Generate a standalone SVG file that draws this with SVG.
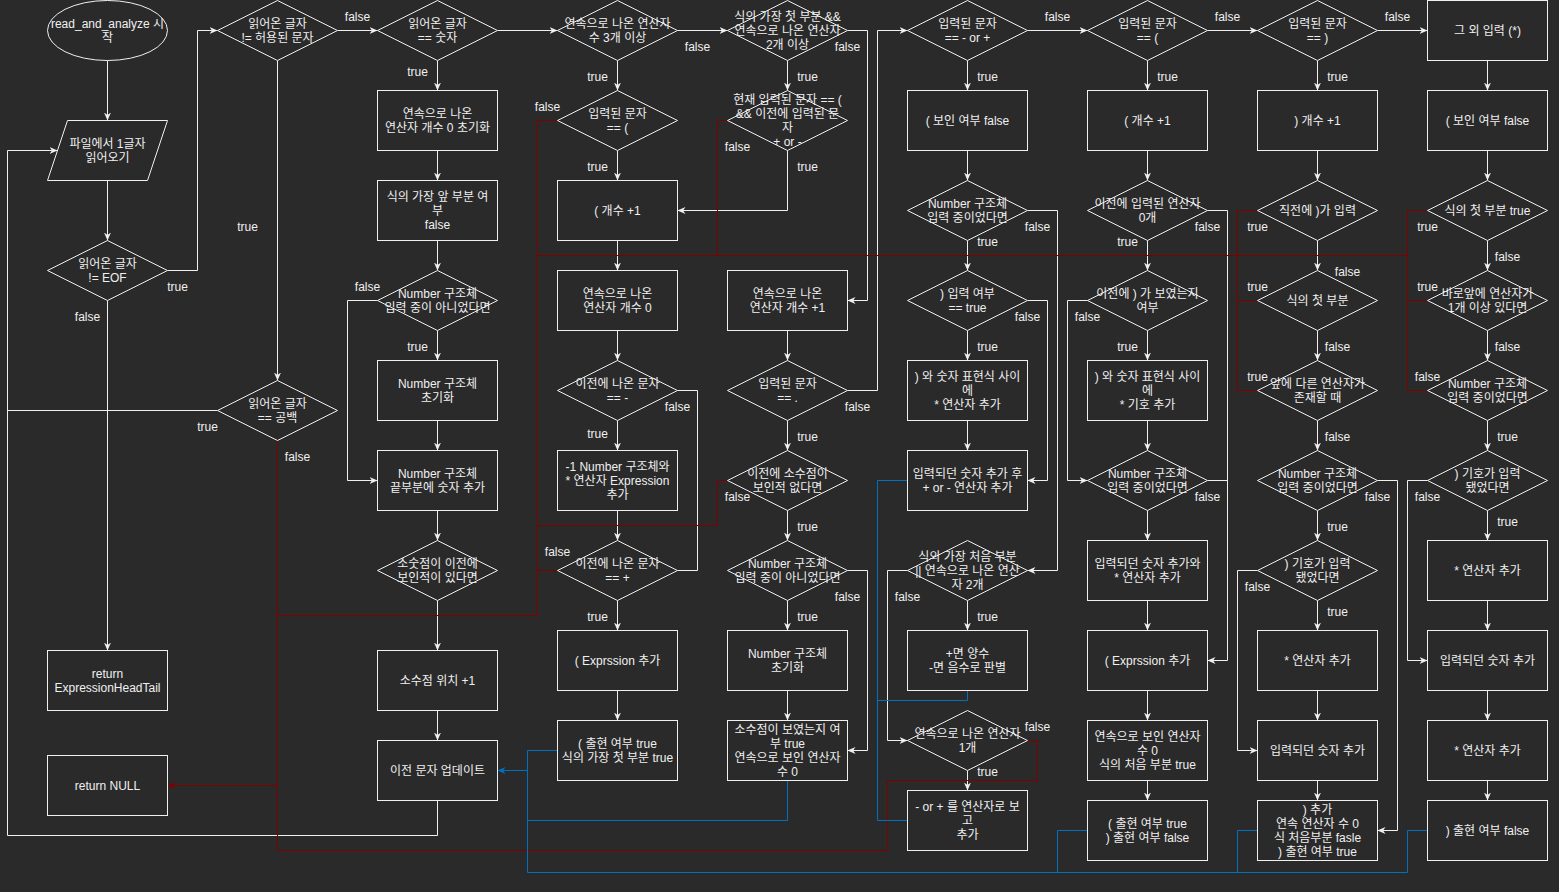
<svg xmlns="http://www.w3.org/2000/svg" width="1559" height="892" viewBox="0 0 1559 892">
<style>
.s{fill:#2a2a2a;stroke:#f0f0f0;stroke-width:1}
.t{fill:#f0f0f0;font-family:"Liberation Sans","Noto Sans CJK KR",sans-serif;font-size:12px;text-anchor:middle}
.e{fill:none;stroke:#f0f0f0;stroke-width:1}
.ea{fill:none;stroke:#f0f0f0;stroke-width:1;marker-end:url(#aw)}
.r{fill:none;stroke:#800000;stroke-width:1}
.b{fill:none;stroke:#0070c0;stroke-width:1}
</style>
<defs>
<marker id="aw" viewBox="0 0 8 7" refX="8" refY="3.5" markerWidth="8" markerHeight="7" markerUnits="userSpaceOnUse" orient="auto"><path d="M0,0 L8,3.5 L0,7 L2.4,3.5 z" fill="#f0f0f0"/></marker>
<marker id="ar" viewBox="0 0 8 7" refX="8" refY="3.5" markerWidth="8" markerHeight="7" markerUnits="userSpaceOnUse" orient="auto"><path d="M0,0 L8,3.5 L0,7 L2.4,3.5 z" fill="#800000"/></marker>
<marker id="ab" viewBox="0 0 8 7" refX="8" refY="3.5" markerWidth="8" markerHeight="7" markerUnits="userSpaceOnUse" orient="auto"><path d="M0,0 L8,3.5 L0,7 L2.4,3.5 z" fill="#0070c0"/></marker>
</defs>
<rect x="0" y="0" width="1559" height="892" fill="#2a2a2a"/>
<g transform="translate(0.5,0.5)">
<g id="connectors">
<path class="ea" d="M107,60 V120"/>
<path class="ea" d="M107,180 V240"/>
<path class="ea" d="M167,270 H197 V30 H217"/>
<path class="ea" d="M107,300 V650"/>
<path class="ea" d="M437,800 V835 H7 V150 H57"/>
<path class="e" d="M217,410 H7"/>
<path class="ea" d="M337,30 H377"/>
<path class="ea" d="M277,60 V380"/>
<path class="ea" d="M497,30 H557"/>
<path class="ea" d="M437,60 V90"/>
<path class="ea" d="M437,150 V180"/>
<path class="ea" d="M437,240 V270"/>
<path class="ea" d="M437,330 V360"/>
<path class="ea" d="M437,420 V450"/>
<path class="ea" d="M377,300 H347 V480 H377"/>
<path class="ea" d="M437,510 V540"/>
<path class="ea" d="M437,600 V650"/>
<path class="ea" d="M437,710 V740"/>
<path class="ea" d="M677,30 H727"/>
<path class="ea" d="M617,60 V90"/>
<path class="ea" d="M617,150 V180"/>
<path class="ea" d="M617,240 V270"/>
<path class="ea" d="M617,330 V360"/>
<path class="ea" d="M617,420 V450"/>
<path class="e" d="M677,390 H697 V570 H677"/>
<path class="ea" d="M617,510 V540"/>
<path class="ea" d="M617,600 V630"/>
<path class="ea" d="M617,690 V720"/>
<path class="ea" d="M787,60 V90"/>
<path class="ea" d="M787,150 V210 H677"/>
<path class="ea" d="M847,30 H867 V300 H847"/>
<path class="ea" d="M787,330 V360"/>
<path class="ea" d="M847,390 H877 V30 H907"/>
<path class="ea" d="M787,420 V450"/>
<path class="ea" d="M787,510 V540"/>
<path class="ea" d="M787,600 V630"/>
<path class="ea" d="M847,570 H867 V750 H847"/>
<path class="ea" d="M787,690 V720"/>
<path class="ea" d="M1027,30 H1087"/>
<path class="ea" d="M967,60 V90"/>
<path class="ea" d="M967,150 V180"/>
<path class="ea" d="M967,240 V270"/>
<path class="ea" d="M967,330 V360"/>
<path class="ea" d="M967,420 V450"/>
<path class="ea" d="M1027,210 H1057 V570 H1027"/>
<path class="ea" d="M1027,300 H1047 V480 H1027"/>
<path class="ea" d="M967,600 V630"/>
<path class="ea" d="M907,570 H887 V740 H907"/>
<path class="ea" d="M967,770 V790"/>
<path class="ea" d="M1207,30 H1257"/>
<path class="ea" d="M1147,60 V90"/>
<path class="ea" d="M1147,150 V180"/>
<path class="ea" d="M1147,240 V270"/>
<path class="ea" d="M1147,330 V360"/>
<path class="ea" d="M1147,420 V450"/>
<path class="ea" d="M1207,210 H1227 V660 H1207"/>
<path class="ea" d="M1087,300 H1067 V480 H1087"/>
<path class="e" d="M1207,480 H1227"/>
<path class="ea" d="M1147,510 V540"/>
<path class="ea" d="M1147,600 V630"/>
<path class="ea" d="M1147,690 V720"/>
<path class="ea" d="M1147,780 V800"/>
<path class="ea" d="M1377,30 H1427"/>
<path class="ea" d="M1317,60 V90"/>
<path class="ea" d="M1317,150 V180"/>
<path class="ea" d="M1317,240 V270"/>
<path class="ea" d="M1317,330 V360"/>
<path class="ea" d="M1317,420 V450"/>
<path class="ea" d="M1317,510 V540"/>
<path class="ea" d="M1377,480 H1397 V830 H1377"/>
<path class="ea" d="M1317,600 V630"/>
<path class="ea" d="M1257,570 H1237 V750 H1257"/>
<path class="ea" d="M1317,690 V720"/>
<path class="ea" d="M1317,780 V800"/>
<path class="ea" d="M1487,60 V90"/>
<path class="ea" d="M1487,150 V180"/>
<path class="ea" d="M1487,240 V270"/>
<path class="ea" d="M1487,330 V360"/>
<path class="ea" d="M1487,420 V450"/>
<path class="ea" d="M1487,510 V540"/>
<path class="ea" d="M1487,600 V630"/>
<path class="ea" d="M1487,690 V720"/>
<path class="ea" d="M1487,780 V800"/>
<path class="ea" d="M1427,480 H1407 V660 H1427"/>
<path class="r" d="M277,440 V785 H167" marker-end="url(#ar)"/>
<path class="r" d="M1027,740 H1037 V780 H887 V850 H277 V785"/>
<path class="r" d="M557,120 H537 V615 H277"/>
<path class="r" d="M727,120 H717 V255"/>
<path class="r" d="M537,255 H1407"/>
<path class="r" d="M727,480 H717 V525 H537"/>
<path class="r" d="M557,570 H537"/>
<path class="r" d="M1257,210 H1237 V390 H1257"/>
<path class="r" d="M1237,300 H1257"/>
<path class="r" d="M1427,210 H1407 V390 H1427"/>
<path class="r" d="M1407,300 H1427"/>
<path class="b" d="M557,750 H527 V770 H497" marker-end="url(#ab)"/>
<path class="b" d="M1427,830 H1407 V872 H527 V770"/>
<path class="b" d="M1257,830 H1237 V872"/>
<path class="b" d="M1087,830 H1057 V872"/>
<path class="b" d="M787,780 V820 H527"/>
<path class="b" d="M907,820 H877"/>
<path class="b" d="M907,480 H877 V820"/>
<path class="b" d="M967,690 V700 H877"/>
<g id="edge-labels" class="t">
<text x="357" y="20">false</text>
<text x="177" y="290">true</text>
<text x="247" y="230">true</text>
<text x="87" y="320">false</text>
<text x="367" y="290">false</text>
<text x="207" y="430">true</text>
<text x="297" y="460">false</text>
<text x="417" y="75">true</text>
<text x="697" y="50">false</text>
<text x="597" y="80">true</text>
<text x="547" y="110">false</text>
<text x="597" y="170">true</text>
<text x="737" y="150">false</text>
<text x="847" y="50">false</text>
<text x="807" y="80">true</text>
<text x="807" y="170">true</text>
<text x="1057" y="20">false</text>
<text x="987" y="80">true</text>
<text x="1037" y="230">false</text>
<text x="987" y="245">true</text>
<text x="1127" y="245">true</text>
<text x="1167" y="80">true</text>
<text x="1227" y="20">false</text>
<text x="1397" y="20">false</text>
<text x="1337" y="80">true</text>
<text x="1257" y="230">true</text>
<text x="1207" y="230">false</text>
<text x="1427" y="230">true</text>
<text x="1507" y="260">false</text>
<text x="1347" y="275">false</text>
<text x="1257" y="290">true</text>
<text x="1427" y="290">true</text>
<text x="417" y="350">true</text>
<text x="677" y="410">false</text>
<text x="597" y="437">true</text>
<text x="737" y="500">false</text>
<text x="557" y="555">false</text>
<text x="1027" y="320">false</text>
<text x="1087" y="320">false</text>
<text x="987" y="350">true</text>
<text x="1127" y="350">true</text>
<text x="857" y="410">false</text>
<text x="807" y="440">true</text>
<text x="807" y="530">true</text>
<text x="907" y="600">false</text>
<text x="847" y="600">false</text>
<text x="1337" y="350">false</text>
<text x="1257" y="380">true</text>
<text x="1427" y="380">false</text>
<text x="1507" y="350">false</text>
<text x="1337" y="440">false</text>
<text x="1507" y="440">true</text>
<text x="1207" y="500">false</text>
<text x="1377" y="500">false</text>
<text x="1427" y="500">false</text>
<text x="1337" y="530">true</text>
<text x="1507" y="525">true</text>
<text x="1257" y="590">false</text>
<text x="1337" y="615">true</text>
<text x="597" y="620">true</text>
<text x="807" y="620">true</text>
<text x="987" y="620">true</text>
<text x="1037" y="730">false</text>
<text x="987" y="775">true</text>
</g>
</g>
<g id="n_start"><ellipse class="s" cx="107" cy="30" rx="60" ry="30"/><text class="t"><tspan x="107" y="27.5">read_and_analyze 시</tspan><tspan x="107" y="41.5">작</tspan></text></g>
<g id="n_read"><polygon class="s" points="67,120 167,120 147,180 47,180"/><text class="t"><tspan x="107" y="147.5">파일에서 1글자</tspan><tspan x="107" y="161.5">읽어오기</tspan></text></g>
<g id="n_eof"><polygon class="s" points="47,270 107,240 167,270 107,300"/><text class="t"><tspan x="107" y="267.5">읽어온 글자</tspan><tspan x="107" y="281.5">!= EOF</tspan></text></g>
<g id="n_ret_expr"><rect class="s" x="47" y="650" width="120" height="60"/><text class="t"><tspan x="107" y="677.5">return</tspan><tspan x="107" y="691.5">ExpressionHeadTail</tspan></text></g>
<g id="n_ret_null"><rect class="s" x="47" y="755" width="120" height="60"/><text class="t" x="107" y="789.5">return NULL</text></g>
<g id="n_allowed"><polygon class="s" points="217,30 277,0 337,30 277,60"/><text class="t"><tspan x="277" y="27.5">읽어온 글자</tspan><tspan x="277" y="41.5">!= 허용된 문자</tspan></text></g>
<g id="n_space"><polygon class="s" points="217,410 277,380 337,410 277,440"/><text class="t"><tspan x="277" y="407.5">읽어온 글자</tspan><tspan x="277" y="421.5">== 공백</tspan></text></g>
<g id="n_digit"><polygon class="s" points="377,30 437,0 497,30 437,60"/><text class="t"><tspan x="437" y="27.5">읽어온 글자</tspan><tspan x="437" y="41.5">== 숫자</tspan></text></g>
<g id="n_c2b1"><rect class="s" x="377" y="90" width="120" height="60"/><text class="t"><tspan x="437" y="117.5">연속으로 나온</tspan><tspan x="437" y="131.5">연산자 개수 0 초기화</tspan></text></g>
<g id="n_c2b2"><rect class="s" x="377" y="180" width="120" height="60"/><text class="t"><tspan x="437" y="200.5">식의 가장 앞 부분 여</tspan><tspan x="437" y="214.5">부</tspan><tspan x="437" y="228.5">false</tspan></text></g>
<g id="n_c2d1"><polygon class="s" points="377,300 437,270 497,300 437,330"/><text class="t"><tspan x="437" y="297.5">Number 구조체</tspan><tspan x="437" y="311.5">입력 중이 아니었다면</tspan></text></g>
<g id="n_c2b3"><rect class="s" x="377" y="360" width="120" height="60"/><text class="t"><tspan x="437" y="387.5">Number 구조체</tspan><tspan x="437" y="401.5">초기화</tspan></text></g>
<g id="n_c2b4"><rect class="s" x="377" y="450" width="120" height="60"/><text class="t"><tspan x="437" y="477.5">Number 구조체</tspan><tspan x="437" y="491.5">끝부분에 숫자 추가</tspan></text></g>
<g id="n_c2d2"><polygon class="s" points="377,570 437,540 497,570 437,600"/><text class="t"><tspan x="437" y="567.5">소숫점이 이전에</tspan><tspan x="437" y="581.5">보인적이 있다면</tspan></text></g>
<g id="n_c2b5"><rect class="s" x="377" y="650" width="120" height="60"/><text class="t" x="437" y="684.5">소수점 위치 +1</text></g>
<g id="n_c2b6"><rect class="s" x="377" y="740" width="120" height="60"/><text class="t" x="437" y="774.5">이전 문자 업데이트</text></g>
<g id="n_c3d0"><polygon class="s" points="557,30 617,0 677,30 617,60"/><text class="t"><tspan x="617" y="27.5">연속으로 나온 연산자</tspan><tspan x="617" y="41.5">수 3개 이상</tspan></text></g>
<g id="n_c3d1"><polygon class="s" points="557,120 617,90 677,120 617,150"/><text class="t"><tspan x="617" y="117.5">입력된 문자</tspan><tspan x="617" y="131.5">== (</tspan></text></g>
<g id="n_c3b1"><rect class="s" x="557" y="180" width="120" height="60"/><text class="t" x="617" y="214.5">( 개수 +1</text></g>
<g id="n_c3b2"><rect class="s" x="557" y="270" width="120" height="60"/><text class="t"><tspan x="617" y="297.5">연속으로 나온</tspan><tspan x="617" y="311.5">연산자 개수 0</tspan></text></g>
<g id="n_c3d2"><polygon class="s" points="557,390 617,360 677,390 617,420"/><text class="t"><tspan x="617" y="387.5">이전에 나온 문자</tspan><tspan x="617" y="401.5">== -</tspan></text></g>
<g id="n_c3b3"><rect class="s" x="557" y="450" width="120" height="60"/><text class="t"><tspan x="617" y="470.5">-1 Number 구조체와</tspan><tspan x="617" y="484.5">* 연산자 Expression</tspan><tspan x="617" y="498.5">추가</tspan></text></g>
<g id="n_c3d3"><polygon class="s" points="557,570 617,540 677,570 617,600"/><text class="t"><tspan x="617" y="567.5">이전에 나온 문자</tspan><tspan x="617" y="581.5">== +</tspan></text></g>
<g id="n_c3b4"><rect class="s" x="557" y="630" width="120" height="60"/><text class="t" x="617" y="664.5">( Exprssion 추가</text></g>
<g id="n_c3b5"><rect class="s" x="557" y="720" width="120" height="60"/><text class="t"><tspan x="617" y="747.5">( 출현 여부 true</tspan><tspan x="617" y="761.5">식의 가장 첫 부분 true</tspan></text></g>
<g id="n_c4d0"><polygon class="s" points="727,30 787,0 847,30 787,60"/><text class="t"><tspan x="787" y="20.5">식의 가장 첫 부분 &amp;&amp;</tspan><tspan x="787" y="34.5">연속으로 나온 연산자</tspan><tspan x="787" y="48.5">2개 이상</tspan></text></g>
<g id="n_c4d1"><polygon class="s" points="727,120 787,90 847,120 787,150"/><text class="t"><tspan x="787" y="103.5">현재 입력된 문자 == (</tspan><tspan x="787" y="117.5">&amp;&amp; 이전에 입력된 문</tspan><tspan x="787" y="131.5">자</tspan><tspan x="787" y="145.5">+ or -</tspan></text></g>
<g id="n_c4b1"><rect class="s" x="727" y="270" width="120" height="60"/><text class="t"><tspan x="787" y="297.5">연속으로 나온</tspan><tspan x="787" y="311.5">연산자 개수 +1</tspan></text></g>
<g id="n_c4d2"><polygon class="s" points="727,390 787,360 847,390 787,420"/><text class="t"><tspan x="787" y="387.5">입력된 문자</tspan><tspan x="787" y="401.5">== .</tspan></text></g>
<g id="n_c4d3"><polygon class="s" points="727,480 787,450 847,480 787,510"/><text class="t"><tspan x="787" y="477.5">이전에 소수점이</tspan><tspan x="787" y="491.5">보인적 없다면</tspan></text></g>
<g id="n_c4d4"><polygon class="s" points="727,570 787,540 847,570 787,600"/><text class="t"><tspan x="787" y="567.5">Number 구조체</tspan><tspan x="787" y="581.5">입력 중이 아니었다면</tspan></text></g>
<g id="n_c4b2"><rect class="s" x="727" y="630" width="120" height="60"/><text class="t"><tspan x="787" y="657.5">Number 구조체</tspan><tspan x="787" y="671.5">초기화</tspan></text></g>
<g id="n_c4b3"><rect class="s" x="727" y="720" width="120" height="60"/><text class="t"><tspan x="787" y="733.5">소수점이 보였는지 여</tspan><tspan x="787" y="747.5">부 true</tspan><tspan x="787" y="761.5">연속으로 보인 연산자</tspan><tspan x="787" y="775.5">수 0</tspan></text></g>
<g id="n_c5d0"><polygon class="s" points="907,30 967,0 1027,30 967,60"/><text class="t"><tspan x="967" y="27.5">입력된 문자</tspan><tspan x="967" y="41.5">== - or +</tspan></text></g>
<g id="n_c5b1"><rect class="s" x="907" y="90" width="120" height="60"/><text class="t" x="967" y="124.5">( 보인 여부 false</text></g>
<g id="n_c5d1"><polygon class="s" points="907,210 967,180 1027,210 967,240"/><text class="t"><tspan x="967" y="207.5">Number 구조체</tspan><tspan x="967" y="221.5">입력 중이었다면</tspan></text></g>
<g id="n_c5d2"><polygon class="s" points="907,300 967,270 1027,300 967,330"/><text class="t"><tspan x="967" y="297.5">) 입력 여부</tspan><tspan x="967" y="311.5">== true</tspan></text></g>
<g id="n_c5b2"><rect class="s" x="907" y="360" width="120" height="60"/><text class="t"><tspan x="967" y="380.5">) 와 숫자 표현식 사이</tspan><tspan x="967" y="394.5">에</tspan><tspan x="967" y="408.5">* 연산자 추가</tspan></text></g>
<g id="n_c5b3"><rect class="s" x="907" y="450" width="120" height="60"/><text class="t"><tspan x="967" y="477.5">입력되던 숫자 추가 후</tspan><tspan x="967" y="491.5">+ or - 연산자 추가</tspan></text></g>
<g id="n_c5d3"><polygon class="s" points="907,570 967,540 1027,570 967,600"/><text class="t"><tspan x="967" y="560.5">식의 가장 처음 부분</tspan><tspan x="967" y="574.5">|| 연속으로 나온 연산</tspan><tspan x="967" y="588.5">자 2개</tspan></text></g>
<g id="n_c5b4"><rect class="s" x="907" y="630" width="120" height="60"/><text class="t"><tspan x="967" y="657.5">+면 양수</tspan><tspan x="967" y="671.5">-면 음수로 판별</tspan></text></g>
<g id="n_c5d4"><polygon class="s" points="907,740 967,710 1027,740 967,770"/><text class="t"><tspan x="967" y="737.5">연속으로 나온 연산자</tspan><tspan x="967" y="751.5">1개</tspan></text></g>
<g id="n_c5b5"><rect class="s" x="907" y="790" width="120" height="60"/><text class="t"><tspan x="967" y="810.5">- or + 를 연산자로 보</tspan><tspan x="967" y="824.5">고</tspan><tspan x="967" y="838.5">추가</tspan></text></g>
<g id="n_c6d0"><polygon class="s" points="1087,30 1147,0 1207,30 1147,60"/><text class="t"><tspan x="1147" y="27.5">입력된 문자</tspan><tspan x="1147" y="41.5">== (</tspan></text></g>
<g id="n_c6b1"><rect class="s" x="1087" y="90" width="120" height="60"/><text class="t" x="1147" y="124.5">( 개수 +1</text></g>
<g id="n_c6d1"><polygon class="s" points="1087,210 1147,180 1207,210 1147,240"/><text class="t"><tspan x="1147" y="207.5">이전에 입력된 연산자</tspan><tspan x="1147" y="221.5">0개</tspan></text></g>
<g id="n_c6d2"><polygon class="s" points="1087,300 1147,270 1207,300 1147,330"/><text class="t"><tspan x="1147" y="297.5">이전에 ) 가 보였는지</tspan><tspan x="1147" y="311.5">여부</tspan></text></g>
<g id="n_c6b2"><rect class="s" x="1087" y="360" width="120" height="60"/><text class="t"><tspan x="1147" y="380.5">) 와 숫자 표현식 사이</tspan><tspan x="1147" y="394.5">에</tspan><tspan x="1147" y="408.5">* 기호 추가</tspan></text></g>
<g id="n_c6d3"><polygon class="s" points="1087,480 1147,450 1207,480 1147,510"/><text class="t"><tspan x="1147" y="477.5">Number 구조체</tspan><tspan x="1147" y="491.5">입력 중이었다면</tspan></text></g>
<g id="n_c6b3"><rect class="s" x="1087" y="540" width="120" height="60"/><text class="t"><tspan x="1147" y="567.5">입력되던 숫자 추가와</tspan><tspan x="1147" y="581.5">* 연산자 추가</tspan></text></g>
<g id="n_c6b4"><rect class="s" x="1087" y="630" width="120" height="60"/><text class="t" x="1147" y="664.5">( Exprssion 추가</text></g>
<g id="n_c6b5"><rect class="s" x="1087" y="720" width="120" height="60"/><text class="t"><tspan x="1147" y="740.5">연속으로 보인 연산자</tspan><tspan x="1147" y="754.5">수 0</tspan><tspan x="1147" y="768.5">식의 처음 부분 true</tspan></text></g>
<g id="n_c6b6"><rect class="s" x="1087" y="800" width="120" height="60"/><text class="t"><tspan x="1147" y="827.5">( 출현 여부 true</tspan><tspan x="1147" y="841.5">) 출현 여부 false</tspan></text></g>
<g id="n_c7d0"><polygon class="s" points="1257,30 1317,0 1377,30 1317,60"/><text class="t"><tspan x="1317" y="27.5">입력된 문자</tspan><tspan x="1317" y="41.5">== )</tspan></text></g>
<g id="n_c7b1"><rect class="s" x="1257" y="90" width="120" height="60"/><text class="t" x="1317" y="124.5">) 개수 +1</text></g>
<g id="n_c7d1"><polygon class="s" points="1257,210 1317,180 1377,210 1317,240"/><text class="t" x="1317" y="214.5">직전에 )가 입력</text></g>
<g id="n_c7d2"><polygon class="s" points="1257,300 1317,270 1377,300 1317,330"/><text class="t" x="1317" y="304.5">식의 첫 부분</text></g>
<g id="n_c7d3"><polygon class="s" points="1257,390 1317,360 1377,390 1317,420"/><text class="t"><tspan x="1317" y="387.5">앞에 다른 연산자가</tspan><tspan x="1317" y="401.5">존재할 때</tspan></text></g>
<g id="n_c7d4"><polygon class="s" points="1257,480 1317,450 1377,480 1317,510"/><text class="t"><tspan x="1317" y="477.5">Number 구조체</tspan><tspan x="1317" y="491.5">입력 중이었다면</tspan></text></g>
<g id="n_c7d5"><polygon class="s" points="1257,570 1317,540 1377,570 1317,600"/><text class="t"><tspan x="1317" y="567.5">) 기호가 입력</tspan><tspan x="1317" y="581.5">됐었다면</tspan></text></g>
<g id="n_c7b2"><rect class="s" x="1257" y="630" width="120" height="60"/><text class="t" x="1317" y="664.5">* 연산자 추가</text></g>
<g id="n_c7b3"><rect class="s" x="1257" y="720" width="120" height="60"/><text class="t" x="1317" y="754.5">입력되던 숫자 추가</text></g>
<g id="n_c7b4"><rect class="s" x="1257" y="800" width="120" height="60"/><text class="t"><tspan x="1317" y="813.5">) 추가</tspan><tspan x="1317" y="827.5">연속 연산자 수 0</tspan><tspan x="1317" y="841.5">식 처음부분 fasle</tspan><tspan x="1317" y="855.5">) 출현 여부 true</tspan></text></g>
<g id="n_c8b0"><rect class="s" x="1427" y="0" width="120" height="60"/><text class="t" x="1487" y="34.5">그 외 입력 (*)</text></g>
<g id="n_c8b1"><rect class="s" x="1427" y="90" width="120" height="60"/><text class="t" x="1487" y="124.5">( 보인 여부 false</text></g>
<g id="n_c8d1"><polygon class="s" points="1427,210 1487,180 1547,210 1487,240"/><text class="t" x="1487" y="214.5">식의 첫 부분 true</text></g>
<g id="n_c8d2"><polygon class="s" points="1427,300 1487,270 1547,300 1487,330"/><text class="t"><tspan x="1487" y="297.5">바로앞에 연산자가</tspan><tspan x="1487" y="311.5">1개 이상 있다면</tspan></text></g>
<g id="n_c8d3"><polygon class="s" points="1427,390 1487,360 1547,390 1487,420"/><text class="t"><tspan x="1487" y="387.5">Number 구조체</tspan><tspan x="1487" y="401.5">입력 중이었다면</tspan></text></g>
<g id="n_c8d4"><polygon class="s" points="1427,480 1487,450 1547,480 1487,510"/><text class="t"><tspan x="1487" y="477.5">) 기호가 입력</tspan><tspan x="1487" y="491.5">됐었다면</tspan></text></g>
<g id="n_c8b2"><rect class="s" x="1427" y="540" width="120" height="60"/><text class="t" x="1487" y="574.5">* 연산자 추가</text></g>
<g id="n_c8b3"><rect class="s" x="1427" y="630" width="120" height="60"/><text class="t" x="1487" y="664.5">입력되던 숫자 추가</text></g>
<g id="n_c8b4"><rect class="s" x="1427" y="720" width="120" height="60"/><text class="t" x="1487" y="754.5">* 연산자 추가</text></g>
<g id="n_c8b5"><rect class="s" x="1427" y="800" width="120" height="60"/><text class="t" x="1487" y="834.5">) 출현 여부 false</text></g>
</g>
</svg>
